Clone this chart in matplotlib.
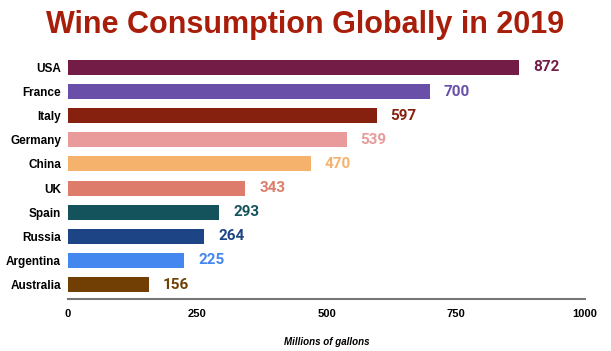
import matplotlib
matplotlib.use("Agg")
import matplotlib.pyplot as plt

countries = ["USA", "France", "Italy", "Germany", "China", "UK", "Spain", "Russia", "Argentina", "Australia"]
values = [872, 700, 597, 539, 470, 343, 293, 264, 225, 156]
colors = ["#721c46", "#6a4fa8", "#86200f", "#e99a9a", "#f5b26c",
          "#de7c6c", "#14535c", "#1d4586", "#4387ef", "#713f04"]
ticks = [0, 250, 500, 750, 1000]

plt.rcParams['font.family'] = ['Liberation Sans', 'DejaVu Sans']

fig = plt.figure(figsize=(6.11, 3.51), dpi=100)
ax = fig.add_axes([68/611, 52/351, 517/611, 246/351])

y = list(range(len(countries)))
ax.barh(y, values, height=0.62, color=colors)
for i, v in enumerate(values):
    ax.text(v + 27, i, str(v), va="center", ha="left", fontsize=11,
            fontweight="bold", color=colors[i], family=["Roboto", "DejaVu Sans"])

ax.set_ylim(len(countries) - 0.4, -0.6)
ax.set_xlim(0, 1000)
ax.set_yticks(y)
ax.set_yticklabels(countries, fontsize=8.5, fontweight="bold")
ax.set_xticks(ticks)
ax.set_xticklabels([str(t) for t in ticks], fontsize=8, fontweight="bold")
ax.tick_params(axis="y", length=0, pad=5)
ax.tick_params(axis="x", length=0, pad=7)
for s in ["top", "right", "left"]:
    ax.spines[s].set_visible(False)
ax.spines["bottom"].set_color("#777777")
ax.spines["bottom"].set_linewidth(1.5)
ax.set_xlabel("Millions of gallons", fontsize=7, style="italic", fontweight="bold", labelpad=13)

fig.text(0.5, 0.93, "Wine Consumption Globally in 2019", ha="center", va="center",
         fontsize=22, fontweight="bold", color="#a81e0a")

fig.savefig("out.png", dpi=100)
